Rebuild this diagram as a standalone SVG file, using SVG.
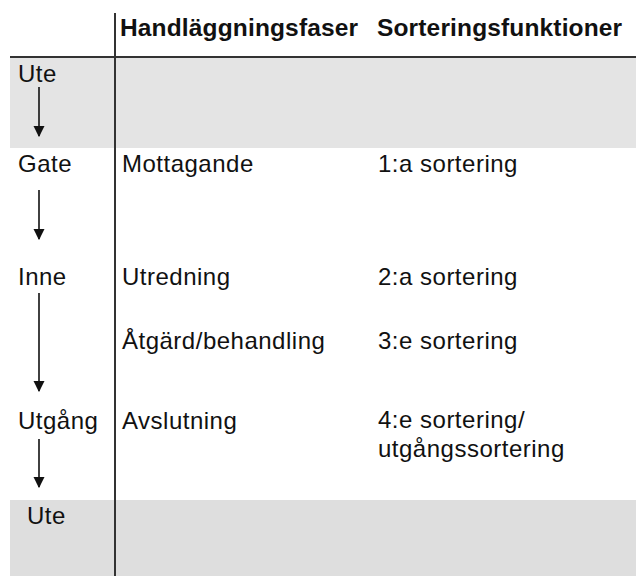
<svg xmlns="http://www.w3.org/2000/svg" width="636" height="576" viewBox="0 0 636 576">
<defs>
<style>
text{font-family:"Liberation Sans",Arial,sans-serif;font-size:24px;fill:#111;letter-spacing:0.5px}
.h{font-weight:bold;font-size:24.5px;letter-spacing:0.15px}
.band{stroke:none}
.rule{stroke:#333;stroke-width:2;fill:none}
.arr{stroke:#111;stroke-width:1.6;fill:none;marker-end:url(#ah)}
</style>
<marker id="ah" viewBox="0 0 10 10" refX="9" refY="5" markerWidth="11" markerHeight="12" markerUnits="userSpaceOnUse" orient="auto">
<path d="M0,0 L10,5 L0,10 Z" fill="#111"/>
</marker>
</defs>
<rect width="636" height="576" fill="#fff"/>
<rect class="band" x="10" y="58" width="626" height="90" fill="#e4e4e4"/>
<rect class="band" x="10" y="500" width="626" height="76" fill="#dedede"/>
<g id="grid">
<line class="rule" x1="10" y1="57" x2="636" y2="57"/>
<line class="rule" x1="115" y1="13" x2="115" y2="576"/>
</g>
<g id="header">
<text class="h" x="120" y="36">Handläggningsfaser</text>
<text class="h" x="377" y="36">Sorteringsfunktioner</text>
</g>
<g id="ute1"><text x="18" y="82">Ute</text></g>
<g id="gate"><text x="18" y="172">Gate</text></g>
<g id="inne"><text x="18" y="285">Inne</text></g>
<g id="utgang"><text x="18" y="429">Utgång</text></g>
<g id="ute2"><text x="27" y="524">Ute</text></g>
<g id="mottagande"><text x="122" y="172">Mottagande</text><text x="378" y="172">1:a sortering</text></g>
<g id="utredning"><text x="122" y="285">Utredning</text><text x="378" y="285">2:a sortering</text></g>
<g id="atgard"><text x="122" y="349">Åtgärd/behandling</text><text x="378" y="349">3:e sortering</text></g>
<g id="avslutning"><text x="122" y="429">Avslutning</text><text x="378" y="428">4:e sortering/</text><text x="378" y="457">utgångssortering</text></g>
<g id="connectors">
<line class="arr" x1="39" y1="87" x2="39" y2="136"/>
<line class="arr" x1="39" y1="190" x2="39" y2="239"/>
<line class="arr" x1="39" y1="293" x2="39" y2="391"/>
<line class="arr" x1="39" y1="439" x2="39" y2="487"/>
</g>
</svg>
